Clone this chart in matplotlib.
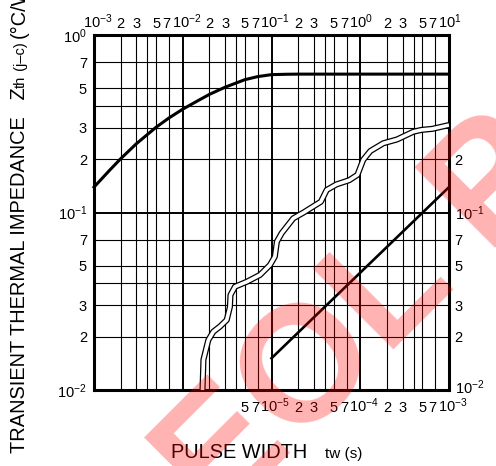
import matplotlib.pyplot as plt
import numpy as np
from matplotlib.ticker import LogLocator, NullLocator
from matplotlib.transforms import ScaledTranslation

plt.rcParams['font.family'] = ['Liberation Sans', 'DejaVu Sans']
plt.rcParams['mathtext.fontset'] = 'custom'
plt.rcParams['mathtext.rm'] = 'Liberation Sans'
plt.rcParams['mathtext.default'] = 'regular'

# thermal impedance, upper curve (top time axis, s)
t_case = [1e-3, 1.5e-3, 2e-3, 3e-3, 5e-3, 7e-3, 1e-2, 1.5e-2, 2e-2, 3e-2,
          5e-2, 7e-2, 1e-1, 1.5e-1, 2e-1, 1e0, 1e1]
z_case = [0.139, 0.173, 0.201, 0.244, 0.302, 0.341, 0.382, 0.428, 0.463, 0.508,
          0.560, 0.583, 0.598, 0.601, 0.602, 0.602, 0.602]

# double (hollow) curve, bottom time axis (s)
t_wavy = [1.67e-6, 1.71e-6, 1.94e-6, 2.21e-6, 2.63e-6, 3.13e-6, 3.40e-6, 3.45e-6,
          3.88e-6, 5.26e-6, 7.41e-6, 9.61e-6, 1.09e-5, 1.15e-5, 1.30e-5, 1.76e-5,
          2.3e-5, 2.94e-5, 3.6e-5, 4.19e-5, 5.4e-5, 7.5e-5, 9.3e-5, 1.08e-4,
          1.3e-4, 1.82e-4, 2.6e-4, 3.96e-4, 4.9e-4, 6.5e-4, 1e-3]
z_wavy = [0.0100, 0.0148, 0.0191, 0.0213, 0.0228, 0.0248, 0.0294, 0.0343,
          0.0382, 0.0407, 0.0445, 0.0506, 0.0564, 0.0685, 0.0764, 0.0927,
          0.100, 0.108, 0.115, 0.134, 0.144, 0.152, 0.163, 0.198,
          0.222, 0.2455, 0.258, 0.285, 0.292, 0.296, 0.311]

# straight line, bottom time axis (s)
t_line = [1e-5, 1e-3]
z_line = [0.0151, 0.139]

# tick labels
top_ticks = [1e-3, 2e-3, 3e-3, 5e-3, 7e-3, 1e-2, 2e-2, 3e-2, 5e-2, 7e-2,
             1e-1, 2e-1, 3e-1, 5e-1, 7e-1, 1e0, 2e0, 3e0, 5e0, 7e0, 1e1]
top_labels = ['10$^{-3}$', '2', '3', '5', '7', '10$^{-2}$', '2', '3', '5', '7',
              '10$^{-1}$', '2', '3', '5', '7', '10$^{0}$', '2', '3', '5', '7', '10$^{1}$']
bottom_ticks = [5e-6, 7e-6, 1e-5, 2e-5, 3e-5, 5e-5, 7e-5, 1e-4, 2e-4, 3e-4,
                5e-4, 7e-4, 1e-3]
bottom_labels = ['5', '7', '10$^{-5}$', '2', '3', '5', '7', '10$^{-4}$', '2', '3',
                 '5', '7', '10$^{-3}$']
left_ticks = [1e-2, 2e-2, 3e-2, 5e-2, 7e-2, 1e-1, 2e-1, 3e-1, 5e-1, 7e-1, 1e0]
left_labels = ['10$^{-2}$', '2', '3', '5', '7', '10$^{-1}$', '2', '3', '5', '7', '10$^{0}$']
right_ticks = [1e-2, 2e-2, 3e-2, 5e-2, 7e-2, 1e-1, 2e-1]
right_labels = ['10$^{-2}$', '2', '3', '5', '7', '10$^{-1}$', '2']

W, H = 496, 466
fig = plt.figure(figsize=(W / 100, H / 100), dpi=100)
ax = fig.add_axes([94 / W, 1 - 390 / H, 355 / W, 355 / H])
ax.set_xscale('log')
ax.set_yscale('log')
ax.set_xlim(1e-7, 1e-3)
ax.set_ylim(1e-2, 1)
for axis in (ax.xaxis, ax.yaxis):
    axis.set_major_locator(LogLocator(10, numticks=20))
    axis.set_minor_locator(LogLocator(10, subs=(2, 3, 4, 5, 7), numticks=20))
ax.grid(which='major', color='black', lw=1.4)
ax.grid(which='minor', color='black', lw=0.8)
ax.tick_params(which='both', length=0, labelbottom=False, labelleft=False)
for s in ax.spines.values():
    s.set_linewidth(2.2)

# hollow wavy curve and straight line
ax.plot(t_wavy, z_wavy, color='black', lw=4.4, solid_joinstyle='round',
        solid_capstyle='butt', zorder=3)
ax.plot(t_wavy, z_wavy, color='white', lw=2.6, solid_joinstyle='round',
        solid_capstyle='butt', zorder=4)
ax.plot(t_line, z_line, color='black', lw=1.9, zorder=3)

# top axis (pulse width x 1e4) carries the upper curve
ax_top = ax.twiny()
ax_top.set_xscale('log')
ax_top.set_xlim(1e-3, 1e1)
ax_top.xaxis.set_minor_locator(NullLocator())
ax_top.set_xticks(top_ticks, top_labels)
ax_top.tick_params(length=0, pad=4, labelsize=10.5)
for s in ax_top.spines.values():
    s.set_visible(False)
ax_top.plot(t_case, z_case, color='black', lw=2.2, clip_on=False)

sec_b = ax.secondary_xaxis('bottom')
sec_b.xaxis.set_minor_locator(NullLocator())
sec_b.set_xticks(bottom_ticks, bottom_labels)
sec_b.tick_params(length=0, pad=5, labelsize=10.5)
sec_b.spines['bottom'].set_visible(False)

sec_l = ax.secondary_yaxis('left')
sec_l.yaxis.set_minor_locator(NullLocator())
sec_l.set_yticks(left_ticks, left_labels)
sec_l.tick_params(length=0, pad=5, labelsize=10.5)
sec_l.spines['left'].set_visible(False)

sec_r = ax.secondary_yaxis('right')
sec_r.yaxis.set_minor_locator(NullLocator())
sec_r.set_yticks(right_ticks, right_labels)
sec_r.tick_params(length=0, pad=4, labelsize=10.5)
sec_r.spines['right'].set_visible(False)

fig.canvas.draw()
renderer = fig.canvas.get_renderer()

# crowd the x labels like the original ("5 7 10^n") and keep them on one baseline
for labels, dy in [(ax_top.get_xticklabels(), 0.01), (sec_b.get_xticklabels(), -0.147)]:
    for lab in labels:
        txt = lab.get_text()
        dx = 0.0
        if txt.startswith('10'):
            lab.set_horizontalalignment('left')
            dx = -0.11
        elif txt == '7':
            dx = -0.025
        lab.set_verticalalignment('baseline')
        lab.set_transform(lab.get_transform() + ScaledTranslation(dx, dy, fig.dpi_scale_trans))

# lowest right label sits a little above the corner
lab_r = sec_r.get_yticklabels()[0]
lab_r.set_transform(lab_r.get_transform() + ScaledTranslation(0, 0.04, fig.dpi_scale_trans))

# axis titles, built from pieces of different size
y_pos = 13 / H
for txt, size in [('TRANSIENT THERMAL IMPEDANCE', 14.4), ('   Z', 14.4), ('th', 10.5),
                  (' (j\u2013c) ', 10.5), ('(\u00b0C/W)', 14.4)]:
    t = fig.text(25 / W, y_pos, txt, rotation=90, rotation_mode='anchor',
                 ha='left', va='baseline', fontsize=size)
    bb = t.get_window_extent(renderer)
    y_pos = bb.y1 / H

fig.text(171 / W, 8 / H, 'PULSE WIDTH', fontsize=14.4, ha='left', va='baseline')
fig.text(325 / W, 8 / H, 'tw (s)', fontsize=11, ha='left', va='baseline')

# watermark
fig.text(218 / W, -60 / H, 'EOL P', rotation=45, rotation_mode='anchor',
         ha='left', va='baseline', fontsize=119, fontweight='bold',
         color='red', alpha=0.3, zorder=10)

fig.savefig('out.png', dpi=100)
